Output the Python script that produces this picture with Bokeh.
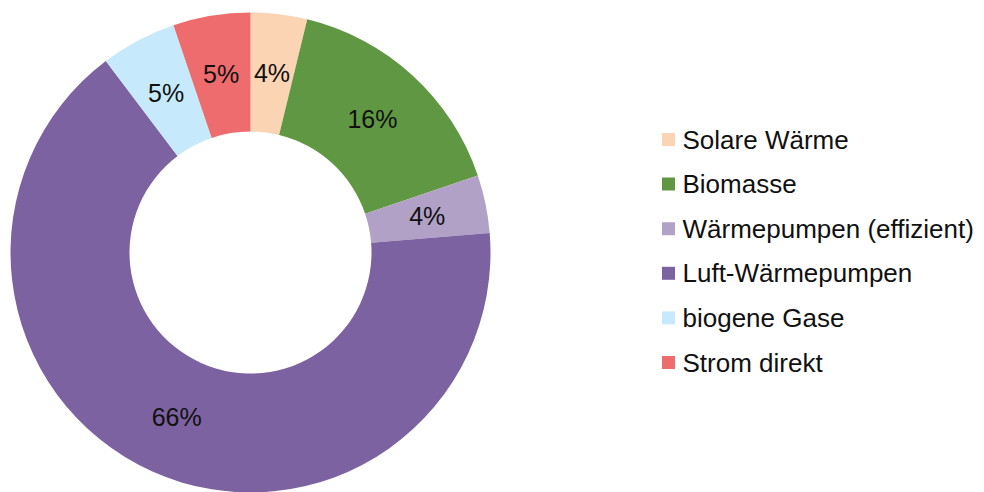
import math
from bokeh.plotting import figure
from bokeh.models import ColumnDataSource, Range1d
from bokeh.core.properties import value
from bokeh.embed import file_html
from bokeh.resources import INLINE

categories = ["Solare Wärme", "Biomasse", "Wärmepumpen (effizient)",
              "Luft-Wärmepumpen", "biogene Gase", "Strom direkt"]
shares = [3.8, 16.0, 3.9, 66.0, 5.1, 5.2]
labels = ["4%", "16%", "4%", "66%", "5%", "5%"]
colors = ["#FBD4B4", "#5F9743", "#B2A1C7", "#7D62A1", "#C6E9FB", "#EF6C6E"]

W, H = 984, 492
cx, cy = 250, H - 252
r_in, r_out = 121, 240

total = sum(shares)
starts, ends, lx, ly = [], [], [], []
cum = 0.0
for s in shares:
    a0 = math.pi / 2 - 2 * math.pi * cum / total
    cum += s
    a1 = math.pi / 2 - 2 * math.pi * cum / total
    starts.append(a0)
    ends.append(a1)
    mid = (a0 + a1) / 2
    rm = (r_in + r_out) / 2
    lx.append(cx + rm * math.cos(mid))
    ly.append(cy + rm * math.sin(mid))

src = ColumnDataSource(dict(cat=categories, start=starts, end=ends, color=colors,
                            lx=lx, ly=ly, lab=labels))

p = figure(width=W, height=H, output_backend="svg", toolbar_location=None,
           x_range=Range1d(0, W), y_range=Range1d(0, H), min_border=0)
p.axis.visible = False
p.grid.visible = False
p.outline_line_color = None

p.annular_wedge(x=cx, y=cy, inner_radius=r_in, outer_radius=r_out,
                start_angle="start", end_angle="end", direction="clock",
                fill_color="color", line_color=None, source=src)

p.text(x="lx", y="ly", text="lab", source=src, text_align="center",
       text_baseline="middle", text_font=value("Liberation Sans"),
       text_font_size="25px", text_color="#111111")

# legend drawn manually
n = len(categories)
sq_x = [668] * n
sq_y = [H - (139 + i * 44.6) for i in range(n)]
tx = [682] * n
leg_src = ColumnDataSource(dict(sx=sq_x, sy=sq_y, tx=tx, cat=categories, color=colors))
p.rect(x="sx", y="sy", width=13, height=13, fill_color="color", line_color=None,
       source=leg_src)
p.text(x="tx", y="sy", text="cat", source=leg_src, text_align="left",
       text_baseline="middle", text_font=value("Liberation Sans"),
       text_font_size="26px", text_color="#111111")

open("out.html", "w").write(file_html(p, INLINE))
